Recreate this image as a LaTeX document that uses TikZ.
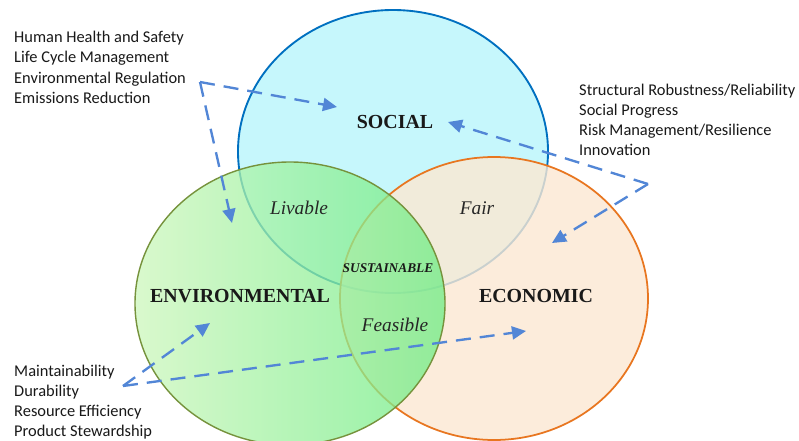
\documentclass[tikz,border=0pt]{standalone}
\usepackage{fontspec}
\setmainfont{Liberation Serif}
\newfontfamily\notefont{Carlito}
\usetikzlibrary{arrows.meta}
\definecolor{socline}{RGB}{0,112,192}
\definecolor{socfill}{RGB}{198,247,252}
\definecolor{ecoline}{RGB}{232,118,32}
\definecolor{ecofill}{RGB}{252,232,210}
\definecolor{envline}{RGB}{118,146,60}
\definecolor{envlight}{RGB}{205,247,188}
\definecolor{envdeep}{RGB}{110,236,132}
\definecolor{linkblue}{RGB}{82,134,214}

\begin{document}
\begin{tikzpicture}[x=.03cm,y=-.03cm,
  area/.style={font=\fontsize{17}{20}\selectfont\bfseries,inner sep=0pt,text=black!90},
  core/.style={font=\fontsize{11.4}{14}\selectfont\bfseries\itshape,inner sep=0pt,text=black!90},
  overlap/.style={font=\fontsize{16.5}{20}\selectfont\itshape,inner sep=0pt,text=black!85},
  notes/.style={font=\notefont\fontsize{14}{17.3}\selectfont,align=left,anchor=base west,inner sep=0pt,text=black!90},
  link/.style={->,>={Triangle[length=4.2mm,width=3.9mm]},draw=linkblue,line width=2pt,dash pattern=on 4.5mm off 2.7mm}]

\path[use as bounding box,fill=white] (0,0) rectangle (799,441);
\draw[socline,line width=1.6pt,fill=socfill] (393,151.5) ellipse [x radius=155,y radius=141.5];
\draw[ecoline,line width=1.5pt,fill=ecofill,fill opacity=.8] (494,298.5) ellipse [x radius=154,y radius=141.5];
\draw[envline,line width=1.2pt,left color=envlight,right color=envdeep,fill opacity=.75] (290,303.5) ellipse [x radius=155,y radius=141.5];

\node[area] (social) at (395,122) {SOCIAL};
\node[area] (environmental) at (240,296) {ENVIRONMENTAL};
\node[area] (economic) at (536,296) {ECONOMIC};
\node[overlap] (livable) at (299,208) {Livable};
\node[overlap] (fair) at (477,208) {Fair};
\node[overlap] (feasible) at (395,325) {Feasible};
\node[core] (sustainable) at (388,268) {SUSTAINABLE};

\node[notes] (health) at (14,103.4)
  {Human Health and Safety\\Life Cycle Management\\Environmental Regulation\\Emissions Reduction};
\node[notes] (robust) at (579,155.9)
  {Structural Robustness/Reliability\\Social Progress\\Risk Management/Resilience\\Innovation};
\node[notes] (upkeep) at (14,436.8)
  {Maintainability\\Durability\\Resource Efficiency\\Product Stewardship};

\coordinate (healthhub) at (200,82);
\coordinate (healthsoc) at (337,107);
\coordinate (healthenv) at (232,223);
\coordinate (robusthub) at (648,184);
\coordinate (robustsoc) at (448,122);
\coordinate (robusteco) at (552,243);
\coordinate (upkeephub) at (123,386);
\coordinate (upkeepenv) at (210,323);
\coordinate (upkeepeco) at (526,331);
\draw[link] (healthhub)--(healthsoc);
\draw[link] (healthhub)--(healthenv);
\draw[link] (robusthub)--(robustsoc);
\draw[link] (robusthub)--(robusteco);
\draw[link] (upkeephub)--(upkeepenv);
\draw[link] (upkeephub)--(upkeepeco);

\end{tikzpicture}
\end{document}
